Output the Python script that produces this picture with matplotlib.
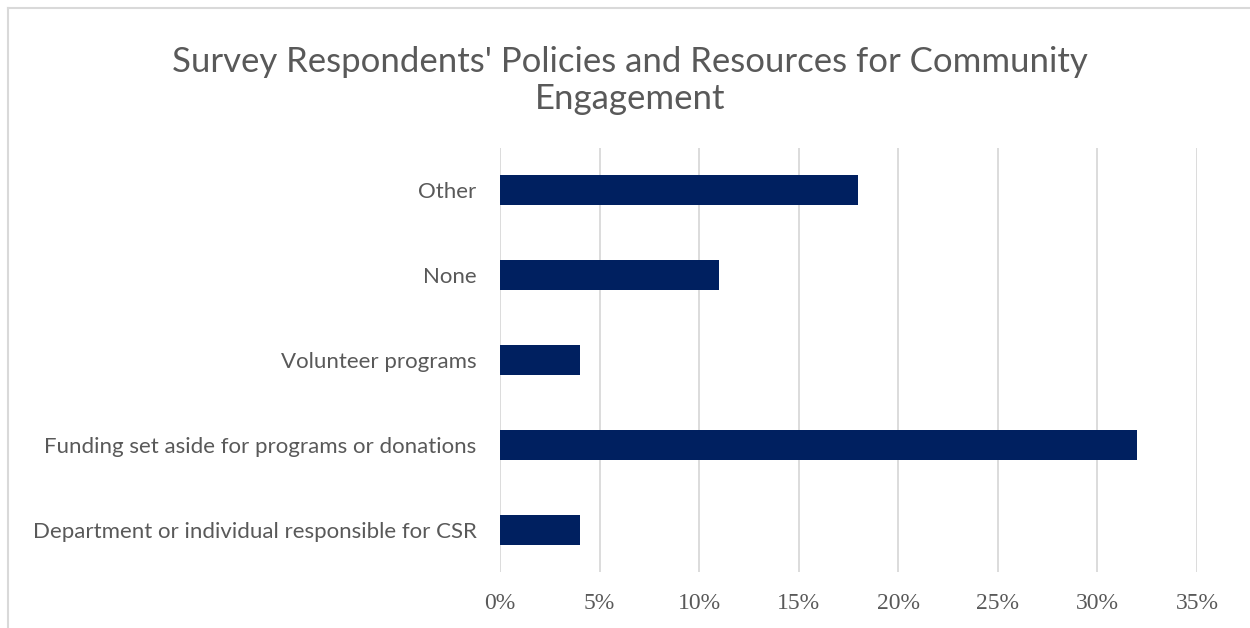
import matplotlib

matplotlib.use("Agg")
import matplotlib.pyplot as plt
from matplotlib.lines import Line2D
from matplotlib.ticker import FuncFormatter

# 下から上の順(barh は先頭が下)
categories = [
    "Department or individual responsible for CSR",
    "Funding set aside for programs or donations",
    "Volunteer programs",
    "None",
    "Other",
]
shares = [4, 32, 4, 11, 18]
xticks = [0, 5, 10, 15, 20, 25, 30, 35]

TEXT = "#595959"
GRID = "#D9D9D9"
BAR = "#002060"

fig = plt.figure(figsize=(12.5, 6.28), dpi=100)
ax = fig.add_axes([0.4, 0.0884, 0.5576, 0.6766])

ax.barh(range(len(categories)), shares, height=0.35, color=BAR, zorder=3)
ax.set_xlim(0, 35)
ax.set_ylim(-0.5, len(categories) - 0.5)
ax.set_xticks(xticks)
ax.xaxis.set_major_formatter(FuncFormatter(lambda v, _: f"{v:.0f}%"))
ax.set_yticks(range(len(categories)))
ax.set_yticklabels(categories)
ax.grid(axis="x", color=GRID, lw=1.3, zorder=0)
for s in ax.spines.values():
    s.set_visible(False)
ax.tick_params(axis="both", length=0)
ax.tick_params(axis="y", pad=17, labelsize=16, labelcolor=TEXT)
ax.tick_params(axis="x", pad=15, labelsize=17, labelcolor=TEXT)
for lab in ax.get_yticklabels():
    lab.set_family("Lato")
for lab in ax.get_xticklabels():
    lab.set_family("Liberation Serif")

fig.text(
    0.504,
    0.872,
    "Survey Respondents' Policies and Resources for Community\nEngagement",
    ha="center",
    va="center",
    fontsize=25,
    color=TEXT,
    family="Lato",
    linespacing=1.22,
)

# グラフ枠(左と上だけ見えている)
fig.add_artist(Line2D([0.006, 0.006], [0, 0.987], color=GRID, lw=1.5, transform=fig.transFigure))
fig.add_artist(Line2D([0.006, 1], [0.987, 0.987], color=GRID, lw=1.5, transform=fig.transFigure))

fig.savefig("out.png", dpi=100)
